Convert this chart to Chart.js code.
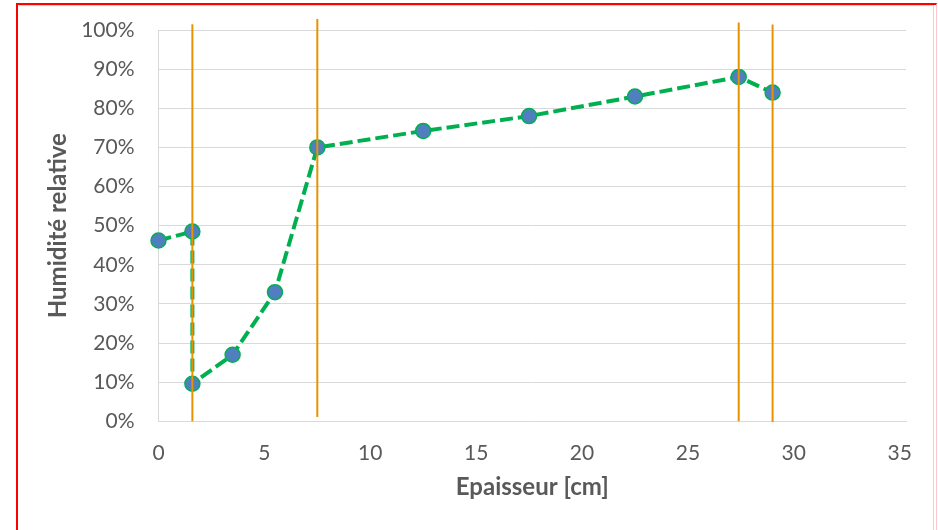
<!DOCTYPE html>
<html>
<head>
<meta charset="utf-8">
<script src="https://cdn.jsdelivr.net/npm/chart.js@4.4.1/dist/chart.umd.min.js"></script>
<style>
  html, body { margin: 0; padding: 0; background: #fff; }
  #wrap { position: relative; width: 938px; height: 530px; overflow: hidden; }
  #frame { position: absolute; left: 16px; top: 3px; width: 918px; height: 600px;
    border-left: 2px solid #ff0000; border-top: 2px solid #ff0000; border-right: 1px solid #ffc8c8; }
  #inner { position: absolute; left: 19px; top: 5px; width: 914px; height: 600px;
    border-top: 1px solid #d9d9d9; border-right: 1px solid #d9d9d9; }
  canvas { position: absolute; left: 0; top: 0; }
</style>
</head>
<body>
<div id="wrap">
  <div id="frame"></div>
  <div id="inner"></div>
  <canvas id="chart" width="938" height="530"></canvas>
</div>
<script>
// Epaisseur [cm] / Humidité relative [%]
const thickness = [0, 1.6, 1.6, 3.5, 5.5, 7.5, 12.5, 17.5, 22.5, 27.4, 29];
const humidity = [46.2, 48.5, 9.6, 17, 33, 70, 74.2, 78, 83, 88, 84];

// couches (limites verticales)
const layerX = [1.6, 7.5, 27.4, 29];
const layerTop = [101.5, 102.8, 101.9, 101.4];
const layerBottom = [0, 1.1, 0, -0.2];

const xTicks = [0, 5, 10, 15, 20, 25, 30, 35];
const yTicks = [0, 10, 20, 30, 40, 50, 60, 70, 80, 90, 100];

const TEXT = '#595959';
const FONT = 'Lato';

// orange lines are drawn above the measured curve
const layerSets = layerX.map((x, i) => ({
  data: [{ x, y: layerBottom[i] }, { x, y: layerTop[i] }],
  borderColor: '#e59400',
  borderWidth: 2,
  pointRadius: 0,
  showLine: true,
  clip: false,
  order: 0
}));

new Chart(document.getElementById('chart'), {
  type: 'scatter',
  data: {
    datasets: [
      {
        data: thickness.map((x, i) => ({ x, y: humidity[i] })),
        showLine: true,
        borderColor: '#00b050',
        borderWidth: 4,
        borderDash: [13, 5],
        pointRadius: 7.5,
        pointBorderWidth: 1.5,
        pointBorderColor: '#00b050',
        pointBackgroundColor: '#4f7fbf',
        clip: false,
        order: 1
      },
      ...layerSets
    ]
  },
  options: {
    responsive: false,
    animation: false,
    events: [],
    layout: { padding: { left: 20, top: 30, right: 32, bottom: 0 } },
    plugins: { legend: { display: false }, tooltip: { enabled: false } },
    scales: {
      x: {
        type: 'linear',
        min: 0,
        max: 35.3,
        afterFit: (s) => { s.height = 108.7; },
        afterBuildTicks: (s) => { s.ticks = xTicks.map((v) => ({ value: v })); },
        grid: { display: false, drawTicks: false },
        border: { display: true, color: '#d9d9d9', width: 1 },
        ticks: { color: TEXT, font: { family: FONT, size: 21 }, padding: 19, maxRotation: 0 },
        title: {
          display: true,
          text: 'Epaisseur [cm]',
          color: TEXT,
          font: { family: FONT, size: 24, weight: 'bold' },
          padding: { top: 0, bottom: 28 }
        }
      },
      y: {
        min: 0,
        max: 100,
        afterFit: (s) => { s.width = 138.5; s.paddingTop = 0; s.paddingBottom = 0; },
        afterBuildTicks: (s) => { s.ticks = yTicks.map((v) => ({ value: v })); },
        grid: { color: '#d9d9d9', lineWidth: 1, drawTicks: false },
        border: { display: true, color: '#d9d9d9', width: 1 },
        ticks: {
          color: TEXT,
          font: { family: FONT, size: 21 },
          padding: 24,
          callback: (v) => v + '%'
        },
        title: {
          display: true,
          text: 'Humidité relative',
          color: TEXT,
          font: { family: FONT, size: 24, weight: 'bold' },
          padding: { top: 24, bottom: 0 }
        }
      }
    }
  }
});
</script>
</body>
</html>
